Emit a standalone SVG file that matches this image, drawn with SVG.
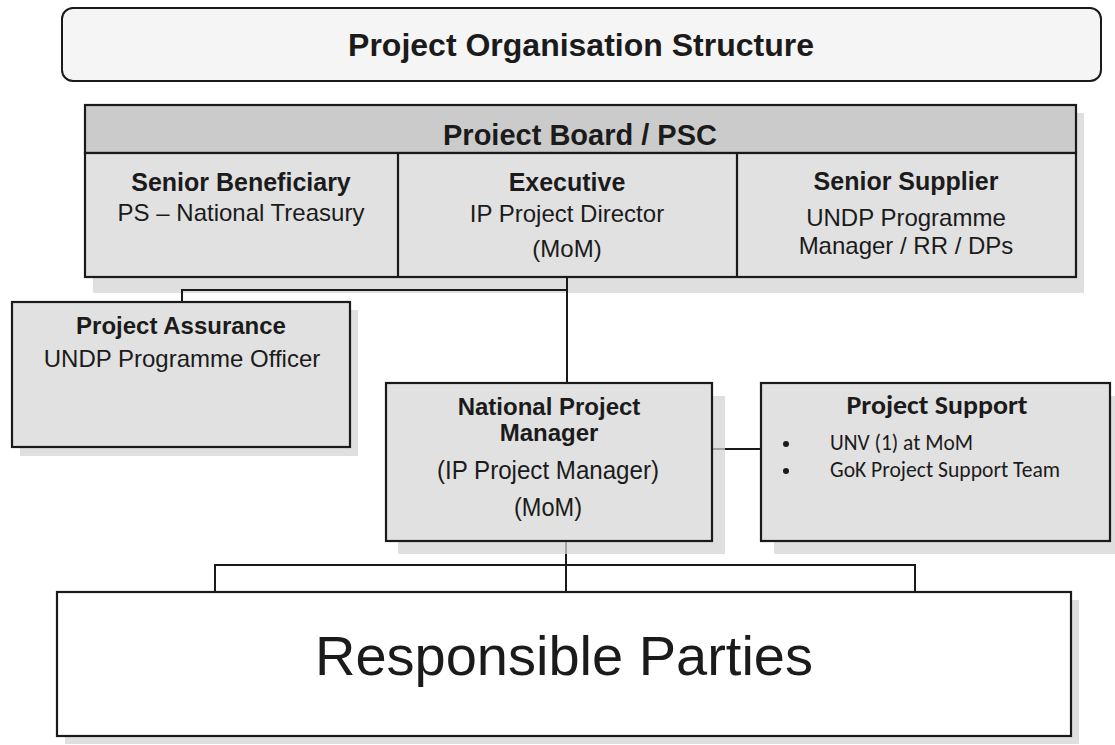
<svg xmlns="http://www.w3.org/2000/svg" width="1115" height="745" viewBox="0 0 1115 745">
  <style>
    .box { fill: #e1e1e1; stroke: #1a1a1a; stroke-width: 2.2; }
    .head { fill: #cbcbcb; stroke: #1a1a1a; stroke-width: 2.2; }
    .shadow { fill: #d4d4d4; opacity: 0.75; }
    .wire { fill: none; stroke: #1a1a1a; stroke-width: 2; }
    .t { font-family: "Liberation Sans", Arial, sans-serif; fill: #1b1b1b; text-anchor: middle; }
    .b { font-weight: bold; }
    .c { font-family: Carlito, Lato, "Open Sans", sans-serif; fill: #1b1b1b; }
  </style>
  <rect width="1115" height="745" fill="#ffffff"/>

  <!-- heading -->
  <g id="title">
    <rect x="62" y="8" width="1039" height="73" rx="11" fill="#f5f5f5" stroke="#1a1a1a" stroke-width="2"/>
    <text class="t b" x="581" y="56" font-size="32">Project Organisation Structure</text>
  </g>

  <!-- board with its three seats -->
  <g id="board">
    <rect class="shadow" x="93" y="113" width="991" height="180"/>
    <rect class="head" x="85" y="105" width="991" height="48"/>
    <rect class="box" x="85" y="153" width="991" height="124"/>
    <line x1="398" y1="153" x2="398" y2="277" stroke="#1a1a1a" stroke-width="2.2"/>
    <line x1="737" y1="153" x2="737" y2="277" stroke="#1a1a1a" stroke-width="2.2"/>
    <text class="t b" x="580" y="145" font-size="29">Proiect Board / PSC</text>
    <text class="t b" x="241" y="191" font-size="25">Senior Beneficiary</text>
    <text class="t" x="241" y="221" font-size="24">PS – National Treasury</text>
    <text class="t b" x="567" y="191" font-size="25">Executive</text>
    <text class="t" x="567" y="222" font-size="24">IP Project Director</text>
    <text class="t" x="567" y="257" font-size="24">(MoM)</text>
    <text class="t b" x="906" y="190" font-size="25">Senior Supplier</text>
    <text class="t" x="906" y="226" font-size="24">UNDP Programme</text>
    <text class="t" x="906" y="254" font-size="24">Manager / RR / DPs</text>
  </g>

  <!-- connectors -->
  <g id="connectors">
    <polyline class="wire" points="182,302 182,290 567,290"/>
    <line class="wire" x1="567" y1="277" x2="567" y2="383"/>
    <line class="wire" x1="712" y1="449" x2="761" y2="449"/>
    <line class="wire" x1="566" y1="541" x2="566" y2="592"/>
    <polyline class="wire" points="215,592 215,565 915,565 915,592"/>
  </g>

  <g id="assurance">
    <rect class="shadow" x="20" y="310" width="338" height="146"/>
    <rect class="box" x="12" y="302" width="338" height="145"/>
    <text class="t b" x="181" y="334" font-size="24">Project Assurance</text>
    <text class="t" x="182" y="367" font-size="24">UNDP Programme Officer</text>
  </g>

  <g id="manager">
    <rect class="shadow" x="398" y="396" width="327" height="158"/>
    <rect class="box" x="386" y="383" width="326" height="158"/>
    <text class="t b" x="549" y="415" font-size="24">National Project</text>
    <text class="t b" x="549" y="441" font-size="24">Manager</text>
    <text class="t" x="548" y="479" font-size="25" textLength="222" lengthAdjust="spacingAndGlyphs">(IP Project Manager)</text>
    <text class="t" x="548" y="516" font-size="25" textLength="68" lengthAdjust="spacingAndGlyphs">(MoM)</text>
  </g>

  <g id="support">
    <rect class="shadow" x="774" y="396" width="341" height="158"/>
    <rect class="box" x="761" y="383" width="349" height="158"/>
    <text class="c" x="937" y="414" font-size="27" font-weight="bold" text-anchor="middle" textLength="181" lengthAdjust="spacingAndGlyphs">Project Support</text>
    <circle cx="786" cy="444" r="3" fill="#1b1b1b"/>
    <circle cx="786" cy="471" r="3" fill="#1b1b1b"/>
    <text class="c" x="830" y="450" font-size="21.5" textLength="143" lengthAdjust="spacingAndGlyphs">UNV (1) at MoM</text>
    <text class="c" x="830" y="477" font-size="21.5" textLength="230" lengthAdjust="spacingAndGlyphs">GoK Project Support Team</text>
  </g>

  <g id="parties">
    <rect class="shadow" x="65" y="600" width="1014" height="144"/>
    <rect x="57" y="592" width="1014" height="144" fill="#ffffff" stroke="#1a1a1a" stroke-width="2.2"/>
    <text class="t" x="564" y="675" font-size="56">Responsible Parties</text>
  </g>
</svg>
